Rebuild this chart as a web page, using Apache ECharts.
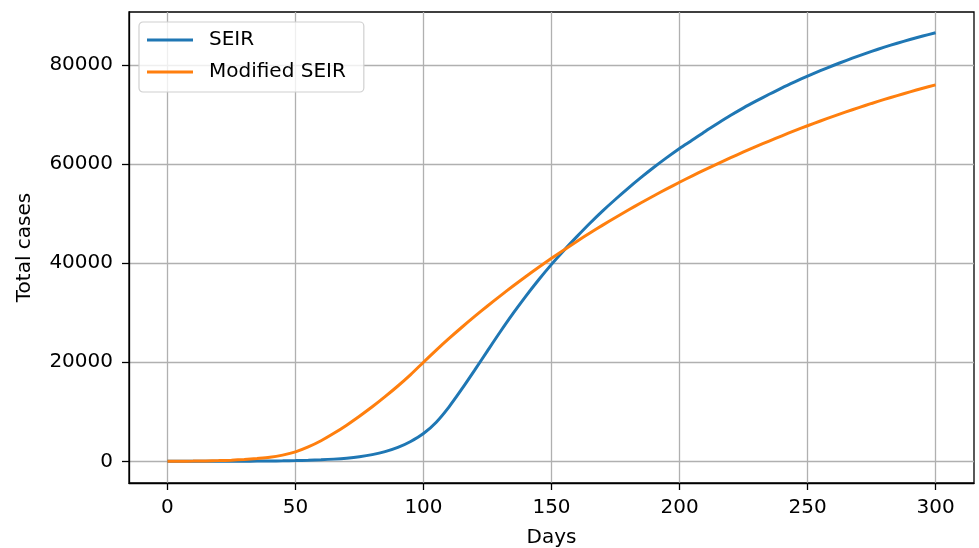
<!DOCTYPE html>
<html>
<head>
<meta charset="utf-8">
<script src="https://cdn.jsdelivr.net/npm/echarts@6/dist/echarts.min.js"></script>
<style>
  html, body { margin: 0; padding: 0; background: #fff; }
  #chart { width: 979px; height: 548px; }
</style>
</head>
<body>
<div id="chart"></div>
<script>
// days sampled every 5
const days = [0, 5, 10, 15, 20, 25, 30, 35, 40, 45, 50, 55, 60, 65, 70, 75, 80, 85, 90, 95,
  100, 105, 110, 115, 120, 125, 130, 135, 140, 145, 150, 155, 160, 165, 170, 175, 180, 185, 190, 195,
  200, 205, 210, 215, 220, 225, 230, 235, 240, 245, 250, 255, 260, 265, 270, 275, 280, 285, 290, 295, 300]

// SEIR total cases
const seir = [0, 1, 3, 6, 10, 17, 27, 42, 63, 95, 140, 205, 300, 440, 640, 930, 1350, 1950, 2800, 4000,
  5600, 7900, 11000, 14600, 18400, 22300, 26150, 29850, 33350, 36650, 39750, 42650, 45400, 48050, 50550, 52900, 55150, 57300, 59350, 61300,
  63150, 64850, 66600, 68250, 69850, 71350, 72750, 74100, 75400, 76600, 77750, 78850, 79900, 80900, 81850, 82750, 83600, 84400, 85150, 85850, 86500]

// Modified SEIR total cases
const modSeir = [0, 15, 40, 80, 140, 230, 370, 560, 800, 1250, 1900, 2900, 4150, 5650, 7300, 9100, 11000, 13050, 15200, 17500,
  20000, 22450, 24800, 27060, 29240, 31350, 33400, 35390, 37320, 39180, 40980, 42730, 44430, 46080, 47680, 49230, 50730, 52190, 53610, 54990,
  56330, 57630, 58890, 60110, 61290, 62440, 63560, 64650, 65710, 66740, 67740, 68700, 69630, 70530, 71400, 72240, 73050, 73830, 74580, 75300, 75990]

const xTicks = [0, 50, 100, 150, 200, 250, 300]
const yTicks = [0, 20000, 40000, 60000, 80000]

const font = 'DejaVu Sans'
const chart = echarts.init(document.getElementById('chart'))

const axisCommon = {
  axisLine: { show: true, onZero: false, lineStyle: { color: '#000', width: 1.3 } },
  axisTick: { show: true, length: 7, lineStyle: { color: '#000', width: 1.3 } },
  axisLabel: { color: '#000', fontFamily: font, fontSize: 20, formatter: v => String(v) },
  splitLine: { show: true, lineStyle: { color: '#b0b0b0', width: 1.3 } },
  nameTextStyle: { color: '#000', fontFamily: font, fontSize: 20 }
}

const option = {
  animation: false,
  backgroundColor: '#fff',
  grid: {
    left: 129, right: 5, top: 12, bottom: 65,
    outerBoundsMode: 'none', containLabel: false,
    show: true, borderColor: '#000', borderWidth: 1.3, backgroundColor: 'transparent'
  },
  legend: {
    left: 139, top: 22,
    orient: 'vertical',
    data: ['SEIR', 'Modified SEIR'],
    icon: 'rect',
    itemWidth: 46, itemHeight: 3,
    itemGap: 12,
    padding: [8, 18, 10, 8],
    borderColor: '#d0d0d0', borderWidth: 1.2, borderRadius: 4,
    backgroundColor: 'rgba(255,255,255,0.8)',
    textStyle: { color: '#000', fontFamily: font, fontSize: 20, padding: [0, 0, 0, 11] }
  },
  xAxis: {
    type: 'value', min: -15, max: 315,
    name: 'Days', nameLocation: 'middle', nameGap: 45,
    ...axisCommon,
    axisTick: { ...axisCommon.axisTick, customValues: xTicks },
    axisLabel: { ...axisCommon.axisLabel, margin: 15, customValues: xTicks }
  },
  yAxis: {
    type: 'value', min: -4380, max: 90700,
    name: 'Total cases', nameLocation: 'middle', nameGap: 94,
    ...axisCommon,
    axisTick: { ...axisCommon.axisTick, customValues: yTicks },
    axisLabel: { ...axisCommon.axisLabel, margin: 16, customValues: yTicks }
  },
  series: [
    {
      name: 'SEIR', type: 'line', smooth: 0.3, showSymbol: false,
      color: '#1f77b4', lineStyle: { width: 3 },
      data: days.map((d, i) => [d, seir[i]])
    },
    {
      name: 'Modified SEIR', type: 'line', smooth: 0.3, showSymbol: false,
      color: '#ff7f0e', lineStyle: { width: 3 },
      data: days.map((d, i) => [d, modSeir[i]])
    }
  ]
}

chart.setOption(option)
</script>
</body>
</html>
